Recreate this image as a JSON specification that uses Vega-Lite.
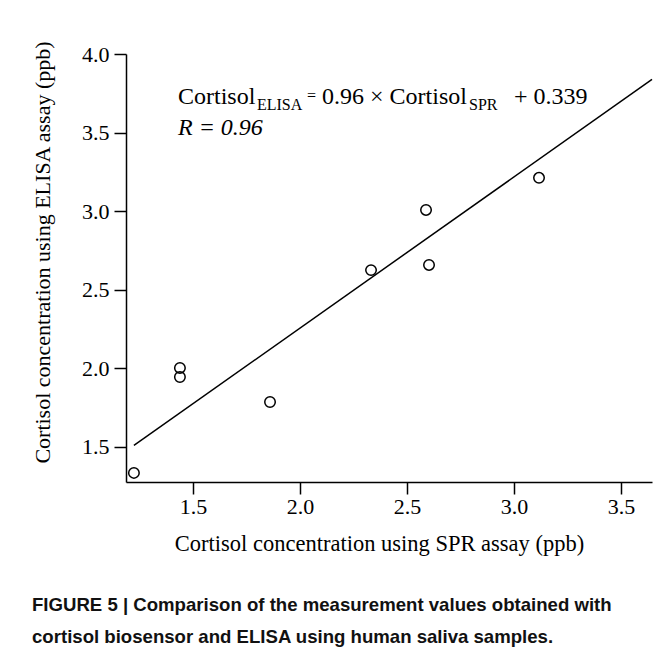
{
  "$schema": "https://vega.github.io/schema/vega-lite/v6.json",
  "width": 526,
  "height": 428,
  "autosize": {"type": "none"},
  "padding": {"left": 126, "top": 54, "right": 19, "bottom": 176},
  "background": "white",
  "config": {"view": {"stroke": null}, "font": "Liberation Serif"},
  "title": {
    "text": ["FIGURE 5 | Comparison of the measurement values obtained with", "cortisol biosensor and ELISA using human saliva samples."],
    "orient": "bottom",
    "anchor": "start",
    "frame": "group",
    "dx": -94,
    "offset": 41,
    "font": "Liberation Sans",
    "fontWeight": "bold",
    "fontSize": 18.6,
    "lineHeight": 32,
    "color": "#111111"
  },
  "encoding": {
    "x": {
      "field": "spr",
      "type": "quantitative",
      "scale": {"domain": [1.187, 3.645], "nice": false, "zero": false},
      "axis": {
        "title": "Cortisol concentration using SPR assay (ppb)",
        "values": [1.5, 2, 2.5, 3, 3.5],
        "format": ".1f",
        "grid": false,
        "domainColor": "black",
        "domainWidth": 1.5,
        "tickColor": "black",
        "tickWidth": 1.5,
        "tickSize": 12,
        "labelFont": "Liberation Serif",
        "labelFontSize": 22,
        "labelColor": "black",
        "labelPadding": 2,
        "labelFlush": false,
        "titleFont": "Liberation Serif",
        "titleFontSize": 22.5,
        "titleFontWeight": "normal",
        "titleColor": "black",
        "titlePadding": 15,
        "titleX": 253
      }
    },
    "y": {
      "field": "elisa",
      "type": "quantitative",
      "scale": {"domain": [1.277, 4.0], "nice": false, "zero": false},
      "axis": {
        "title": "Cortisol concentration using ELISA assay (ppb)",
        "values": [1.5, 2, 2.5, 3, 3.5, 4],
        "format": ".1f",
        "grid": false,
        "domainColor": "black",
        "domainWidth": 1.5,
        "tickColor": "black",
        "tickWidth": 1.5,
        "tickSize": 12,
        "labelFont": "Liberation Serif",
        "labelFontSize": 22,
        "labelColor": "black",
        "labelPadding": 5,
        "labelFlush": false,
        "titleFont": "Liberation Serif",
        "titleFontSize": 22,
        "titleFontWeight": "normal",
        "titleColor": "black",
        "titlePadding": 27,
        "titleY": 198
      }
    }
  },
  "layer": [
    {
      "data": {"values": [
        {"spr": 1.224, "elisa": 1.335},
        {"spr": 1.439, "elisa": 2.003},
        {"spr": 1.439, "elisa": 1.945},
        {"spr": 1.86, "elisa": 1.786},
        {"spr": 2.332, "elisa": 2.625},
        {"spr": 2.589, "elisa": 3.008},
        {"spr": 2.603, "elisa": 2.658},
        {"spr": 3.117, "elisa": 3.212}
      ]},
      "mark": {"type": "point", "shape": "circle", "filled": false, "stroke": "black", "strokeWidth": 1.5, "size": 110, "opacity": 1}
    },
    {
      "data": {"values": [
        {"spr": 1.224, "elisa": 1.51},
        {"spr": 3.645, "elisa": 3.838}
      ]},
      "mark": {"type": "line", "color": "black", "strokeWidth": 1.5}
    },
    {
      "data": {"values": [
        {"spr": 1.43, "elisa": 3.682, "label": "Cortisol"},
        {"spr": 2.103, "elisa": 3.682, "label": "0.96 × Cortisol"},
        {"spr": 3.0, "elisa": 3.682, "label": "+ 0.339"}
      ]},
      "mark": {"type": "text", "align": "left", "baseline": "alphabetic", "font": "Liberation Serif", "fontSize": 24, "color": "black"},
      "encoding": {"text": {"field": "label", "type": "nominal"}}
    },
    {
      "data": {"values": [
        {"spr": 1.799, "elisa": 3.644, "label": "ELISA"},
        {"spr": 2.033, "elisa": 3.701, "label": "="},
        {"spr": 2.79, "elisa": 3.644, "label": "SPR"}
      ]},
      "mark": {"type": "text", "align": "left", "baseline": "alphabetic", "font": "Liberation Serif", "fontSize": 16, "color": "black"},
      "encoding": {"text": {"field": "label", "type": "nominal"}}
    },
    {
      "data": {"values": [
        {"spr": 1.43, "elisa": 3.485, "label": "R = 0.96"}
      ]},
      "mark": {"type": "text", "align": "left", "baseline": "alphabetic", "font": "Liberation Serif", "fontSize": 24, "fontStyle": "italic", "color": "black"},
      "encoding": {"text": {"field": "label", "type": "nominal"}}
    }
  ]
}
